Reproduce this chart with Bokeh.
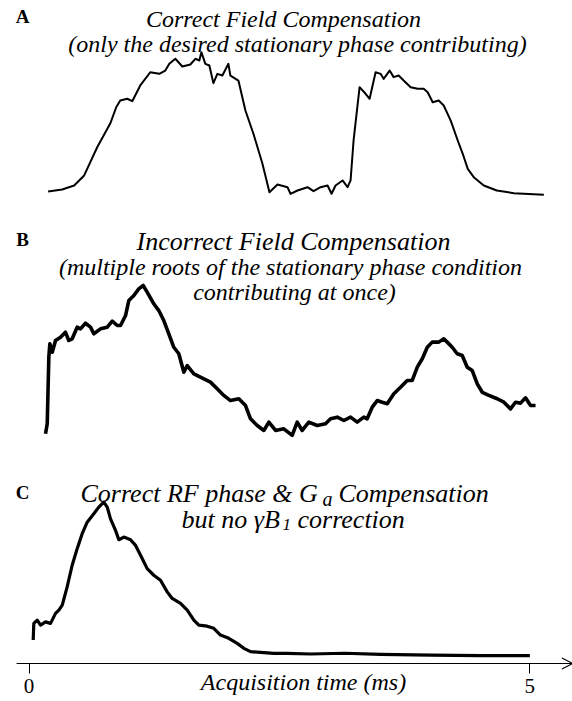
from bokeh.plotting import figure
from bokeh.models import Range1d, FixedTicker, Arrow, OpenHead
from bokeh.core.properties import value
from bokeh.embed import file_html
from bokeh.resources import INLINE

# ---------------- data ----------------
# Panel A: correct field compensation (time in ms, signal in % of panel peak)
time_a = [0.19, 0.33, 0.45, 0.55, 0.68, 0.81, 0.87, 0.91, 0.98, 1.03,
          1.11, 1.21, 1.30, 1.36, 1.40, 1.46, 1.53, 1.61, 1.66, 1.70,
          1.72, 1.76, 1.80, 1.84, 1.88, 1.93, 1.99, 2.01, 2.09, 2.16,
          2.24, 2.33, 2.40, 2.48, 2.58, 2.61, 2.68, 2.78, 2.84, 2.91,
          2.98, 3.02, 3.06, 3.13, 3.18, 3.21, 3.24, 3.30, 3.36, 3.40,
          3.46, 3.51, 3.54, 3.60, 3.64, 3.69, 3.74, 3.81, 3.88, 3.94,
          3.98, 4.03, 4.09, 4.14, 4.21, 4.28, 4.33, 4.38, 4.44, 4.54,
          4.67, 4.84, 5.14]
signal_a = [2.8, 4.2, 7.0, 14.0, 33.7, 50.2, 61.6, 66.3, 67.5, 65.8,
            76.8, 86.0, 84.9, 87.2, 91.9, 95.4, 90.0, 91.4, 95.4, 94.2,
            100.0, 91.9, 90.7, 78.4, 84.9, 83.7, 91.9, 83.7, 80.2, 59.3,
            43.1, 22.1, 2.3, 7.7, 5.8, 1.2, 3.5, 5.8, 3.0, 5.8,
            7.0, 1.2, 7.0, 10.5, 5.8, 10.5, 38.4, 75.6, 71.0, 67.5,
            86.0, 84.9, 81.4, 87.2, 82.6, 83.7, 80.2, 75.6, 74.5, 74.5,
            72.1, 65.1, 66.3, 62.8, 52.3, 38.4, 29.1, 18.6, 12.8, 7.0,
            3.5, 1.6, 0.5]

# Panel B: incorrect field compensation
time_b = [0.164, 0.181, 0.197, 0.207, 0.231, 0.264, 0.314, 0.363, 0.396, 0.430,
          0.480, 0.513, 0.563, 0.613, 0.646, 0.713, 0.780, 0.830, 0.880, 0.913,
          0.963, 0.996, 1.046, 1.095, 1.139, 1.179, 1.245, 1.295, 1.345, 1.395,
          1.445, 1.495, 1.545, 1.579, 1.645, 1.745, 1.811, 1.878, 1.944, 2.011,
          2.094, 2.161, 2.211, 2.278, 2.344, 2.394, 2.461, 2.543, 2.627, 2.677,
          2.727, 2.793, 2.877, 2.960, 3.010, 3.077, 3.143, 3.210, 3.276, 3.342,
          3.376, 3.426, 3.476, 3.526, 3.576, 3.642, 3.709, 3.776, 3.826, 3.876,
          3.926, 3.976, 4.025, 4.091, 4.141, 4.175, 4.225, 4.275, 4.325, 4.375,
          4.425, 4.475, 4.525, 4.591, 4.674, 4.741, 4.807, 4.857, 4.907, 4.957,
          5.007, 5.057]
signal_b = [1.8, 8.4, 52.5, 61.4, 55.8, 63.6, 65.8, 69.1, 63.6, 64.7,
            72.4, 71.3, 75.0, 72.4, 68.0, 71.3, 72.4, 76.4, 73.5, 73.5,
            80.1, 90.1, 93.4, 97.8, 100.0, 95.6, 87.9, 83.4, 76.8, 68.0,
            59.1, 54.8, 42.6, 47.0, 41.5, 38.2, 36.0, 31.6, 27.2, 23.8,
            25.0, 20.5, 11.7, 7.3, 4.0, 9.5, 4.0, 5.1, 0.7, 9.5,
            4.0, 9.5, 7.3, 8.4, 11.7, 12.8, 10.6, 12.8, 9.5, 12.8,
            11.7, 19.4, 23.8, 22.7, 21.7, 28.3, 32.6, 37.1, 37.1, 45.9,
            51.5, 59.1, 62.5, 62.5, 64.7, 62.5, 59.1, 54.8, 53.6, 45.9,
            43.7, 34.9, 29.3, 27.2, 25.0, 22.7, 18.3, 22.7, 22.1, 25.6,
            20.5, 20.5]

# Panel C: correct RF phase & Ga compensation, no gamma-B1 correction
time_c = [0.041, 0.047, 0.081, 0.114, 0.164, 0.214, 0.264, 0.297, 0.331, 0.380,
          0.430, 0.480, 0.530, 0.580, 0.646, 0.696, 0.746, 0.780, 0.813, 0.863,
          0.896, 0.946, 1.013, 1.063, 1.113, 1.179, 1.245, 1.312, 1.379, 1.429,
          1.512, 1.579, 1.645, 1.695, 1.778, 1.844, 1.911, 1.994, 2.078, 2.144,
          2.211, 2.311, 2.444, 2.577, 2.81, 3.15, 3.51, 4.01, 4.51, 5.00]
signal_c = [10.4, 21.2, 23.3, 20.1, 22.2, 21.2, 27.7, 29.8, 33.1, 44.9,
            59.0, 69.8, 79.5, 87.0, 92.5, 96.8, 100.0, 96.8, 89.2, 81.7,
            75.6, 77.3, 75.6, 71.9, 65.5, 56.8, 52.5, 49.3, 41.7, 37.4,
            34.2, 29.8, 23.3, 20.1, 19.4, 18.0, 13.6, 11.5, 8.2, 5.0,
            2.8, 2.4, 1.7, 1.7, 1.3, 1.8, 1.0, 0.6, 0.3, 0.3]

x_ticks = [0, 5]
x_label = "Acquisition time (ms)"
panel_letters = ["A", "B", "C"]

assert len(time_a) == len(signal_a)
assert len(time_b) == len(signal_b)
assert len(time_c) == len(signal_c)

# ---------------- layout ----------------
W, H = 572, 701
AXIS_Y = 663           # page-pixel row of the time axis
SERIF = "Liberation Serif"

p = figure(width=W, height=H, output_backend="svg", toolbar_location=None,
           x_range=Range1d(-0.2856, 5.426), y_range=Range1d(H, 0),
           y_axis_location=None,
           min_border_left=0, min_border_right=0, min_border_top=0,
           min_border_bottom=0)
p.outline_line_color = None
p.xgrid.visible = False
p.ygrid.visible = False
p.background_fill_color = "white"
p.border_fill_color = "white"

p.extra_x_ranges = {"px": Range1d(0, W)}


def panel_range(base_px, peak_px, peak_val=100.0):
    k = (base_px - peak_px) / peak_val
    return Range1d(start=(base_px - H) / k, end=base_px / k)


p.extra_y_ranges = {
    "A": panel_range(195, 51.7),
    "B": panel_range(436, 285),
    "C": panel_range(655.5, 501.7),
}

p.line(time_a, signal_a, y_range_name="A", line_color="black", line_width=2,
       line_join="round")
p.line(time_b, signal_b, y_range_name="B", line_color="black", line_width=3.6,
       line_join="round")
p.line(time_c, signal_c, y_range_name="C", line_color="black", line_width=3.2,
       line_join="round")

# x axis (drawn at a fixed row inside the canvas)
ax = p.xaxis[0]
ax.fixed_location = AXIS_Y
ax.ticker = FixedTicker(ticks=x_ticks)
ax.axis_line_color = None
ax.major_tick_in = 0
ax.major_tick_out = 10
ax.minor_tick_in = 0
ax.minor_tick_out = 0
ax.major_tick_line_color = "black"
ax.major_tick_line_width = 1
ax.major_label_text_font = SERIF
ax.major_label_text_font_size = "21px"
ax.major_label_text_color = "black"
ax.major_label_standoff = 5

p.add_layout(Arrow(end=OpenHead(size=11, line_width=1.2, line_color="black"),
                   x_start=-0.125, y_start=AXIS_Y, x_end=5.43, y_end=AXIS_Y,
                   line_width=1.2, line_color="black"))


def txt(x, y, s, size="24px", style="italic", align="center"):
    p.text(x=[x], y=[y], text=[s], x_range_name="px",
           text_font=value(SERIF), text_font_style=style,
           text_font_size=size, text_align=align,
           text_baseline="middle", text_color="black")


# axis label
txt(303, 681, x_label)

# panel letters
for letter, yc in zip(panel_letters, [16, 239, 492]):
    txt(22, yc, letter, size="19px", style="bold")

# panel A title
txt(283, 18, "Correct Field Compensation")
txt(297, 43, "(only the desired stationary phase contributing)")

# panel B title
txt(293, 241, "Incorrect Field Compensation", size="26px")
txt(290, 266, "(multiple roots of the stationary phase condition")
txt(294, 291, "contributing at once)")

# panel C title (with subscripts)
txt(80, 493, "Correct RF phase & G", size="26px", align="left")
txt(322, 498, "a", size="20px", align="left")
txt(338, 493, "Compensation", size="26px", align="left")
txt(181, 519, "but no \u03b3B", size="26px", align="left")
txt(282, 524, "1", size="17px", align="left")
txt(297, 519, "correction", size="26px", align="left")

open("out.html", "w").write(file_html(p, INLINE))
